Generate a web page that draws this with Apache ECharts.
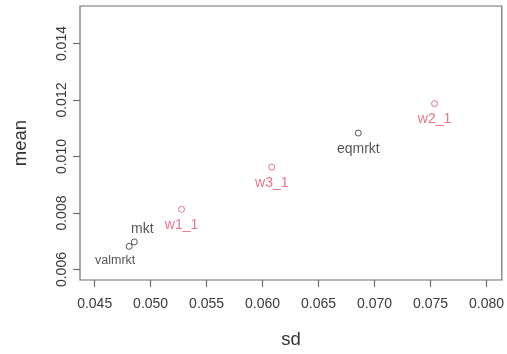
<!DOCTYPE html>
<html>
<head>
<meta charset="utf-8">
<script src="https://cdn.jsdelivr.net/npm/echarts@6/dist/echarts.min.js"></script>
<style>
  html, body { margin: 0; padding: 0; background: #fff; }
  #chart { width: 507px; height: 354px; }
</style>
</head>
<body>
<div id="chart"></div>
<script>
// portfolios: sd vs mean
const mktNames = ['valmrkt', 'mkt', 'eqmrkt'];
const mktSd = [0.04808, 0.04854, 0.06855];
const mktMean = [0.006821, 0.006979, 0.010832];

const wNames = ['w1_1', 'w3_1', 'w2_1'];
const wSd = [0.05276, 0.06082, 0.07536];
const wMean = [0.00813, 0.009628, 0.011874];

const xTicks = [0.045, 0.050, 0.055, 0.060, 0.065, 0.070, 0.075, 0.080];
const yTicks = [0.006, 0.008, 0.010, 0.012, 0.014];

const FONT = '"Liberation Sans", Arial, sans-serif';
const BLACK = '#2b2b2b';
const PINK = '#DF536B';

// where each text sits relative to its point
const labelOffset = {
    valmrkt: [-14, 14],
    mkt: [8, -13],
};

function makeData(names, xs, ys) {
    let out = [];
    for (let i = 0; i < names.length; i++) {
        const off = labelOffset[names[i]] || [0, 16];
        out.push({
            name: names[i],
            value: [xs[i], ys[i]],
            label: {
                offset: off,
                fontSize: names[i] === 'valmrkt' ? 12.5 : 14
            }
        });
    }
    return out;
}

const chart = echarts.init(document.getElementById('chart'));
const option = {
    backgroundColor: '#fff',
    animation: false,
    grid: {
        left: 80,
        top: 6,
        width: 422,
        height: 276,
        show: true,
        borderColor: '#6e6e6e',
        borderWidth: 1.2,
        backgroundColor: 'transparent'
    },
    xAxis: {
        type: 'value',
        min: 0.04369,
        max: 0.08137,
        name: 'sd',
        nameLocation: 'middle',
        nameGap: 50,
        nameTextStyle: {color: '#333', fontSize: 18.5, fontFamily: FONT},
        splitLine: {show: false},
        axisLine: {show: false},
        axisTick: {
            show: true,
            length: 7,
            customValues: xTicks,
            lineStyle: {color: '#6e6e6e', width: 1.2}
        },
        axisLabel: {
            customValues: xTicks,
            margin: 17,
            color: '#3a3a3a',
            fontSize: 14,
            fontFamily: FONT,
            formatter: v => v.toFixed(3)
        }
    },
    yAxis: {
        type: 'value',
        min: 0.00563,
        max: 0.01533,
        name: 'mean',
        nameLocation: 'middle',
        nameGap: 50,
        nameTextStyle: {color: '#333', fontSize: 18.5, fontFamily: FONT},
        splitLine: {show: false},
        axisLine: {show: false},
        axisTick: {
            show: true,
            length: 7,
            customValues: yTicks,
            lineStyle: {color: '#6e6e6e', width: 1.2}
        },
        axisLabel: {
            customValues: yTicks,
            rotate: 90,
            margin: 11,
            color: '#3a3a3a',
            fontSize: 14,
            fontFamily: FONT,
            formatter: v => v.toFixed(3)
        }
    },
    series: [
        {
            name: 'market',
            type: 'scatter',
            symbol: 'circle',
            symbolSize: 6,
            itemStyle: {color: 'transparent', borderColor: BLACK, borderWidth: 1},
            label: {
                show: true,
                position: 'inside',
                formatter: p => p.name,
                color: BLACK,
                fontFamily: FONT
            },
            data: makeData(mktNames, mktSd, mktMean)
        },
        {
            name: 'weights',
            type: 'scatter',
            symbol: 'circle',
            symbolSize: 6,
            itemStyle: {color: 'transparent', borderColor: PINK, borderWidth: 1},
            label: {
                show: true,
                position: 'inside',
                formatter: p => p.name,
                color: PINK,
                fontFamily: FONT
            },
            data: makeData(wNames, wSd, wMean)
        }
    ]
};
chart.setOption(option);
</script>
</body>
</html>
